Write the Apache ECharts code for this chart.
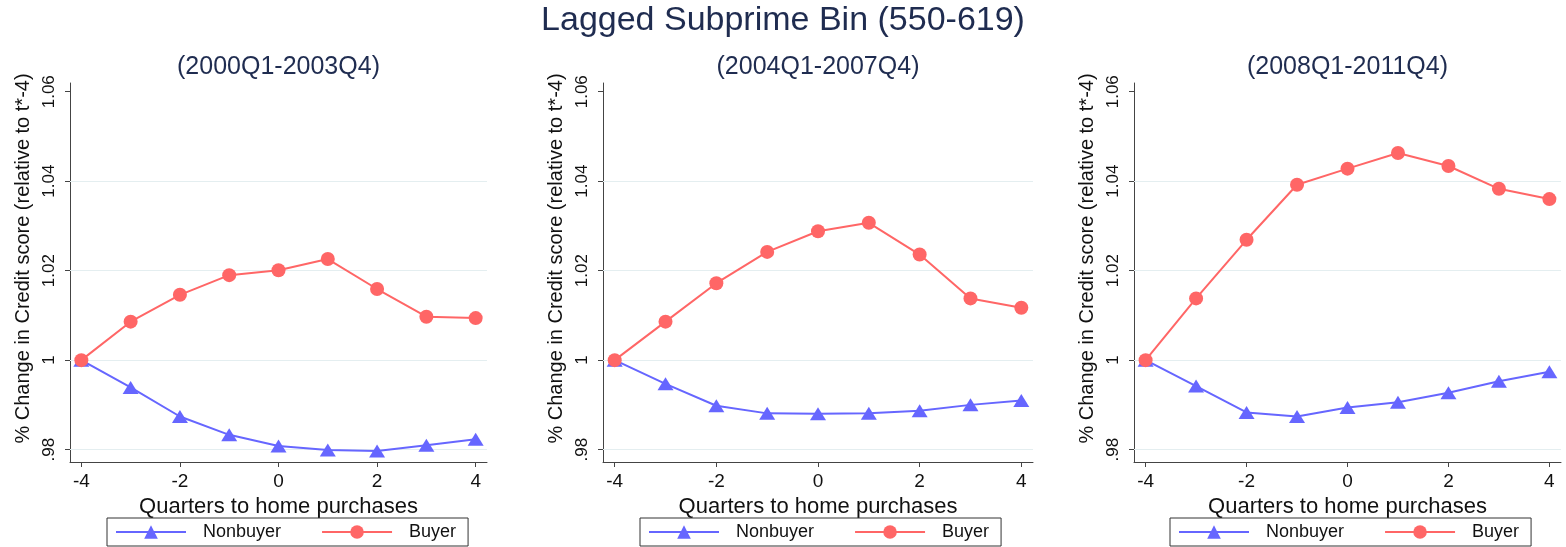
<!DOCTYPE html>
<html>
<head>
<meta charset="utf-8">
<title>Lagged Subprime Bin (550-619)</title>
<script src="https://cdn.jsdelivr.net/npm/echarts@6/dist/echarts.min.js"></script>
<style>
  html, body { margin: 0; padding: 0; background: #fff; }
  #chart { width: 1566px; height: 547px; }
</style>
</head>
<body>
<div id="chart"></div>
<script>
// --- data ---
const mainTitle = "Lagged Subprime Bin (550-619)";
const panelTitles = ["(2000Q1-2003Q4)", "(2004Q1-2007Q4)", "(2008Q1-2011Q4)"];
const quarters = [-4, -3, -2, -1, 0, 1, 2, 3, 4];

const nonbuyer2000 = [1.0, 0.9939, 0.9874, 0.9833, 0.9808, 0.9799, 0.9797, 0.9810, 0.9823];
const buyer2000    = [1.0, 1.0086, 1.0146, 1.0190, 1.0201, 1.0226, 1.0159, 1.0097, 1.0094];
const nonbuyer2004 = [1.0, 0.9947, 0.9898, 0.9881, 0.9880, 0.9881, 0.9887, 0.9900, 0.9910];
const buyer2004    = [1.0, 1.0086, 1.0172, 1.0242, 1.0288, 1.0307, 1.0236, 1.0138, 1.0117];
const nonbuyer2008 = [1.0, 0.9942, 0.9883, 0.9874, 0.9894, 0.9906, 0.9927, 0.9953, 0.9974];
const buyer2008    = [1.0, 1.0138, 1.0269, 1.0392, 1.0428, 1.0463, 1.0434, 1.0383, 1.0360];

const xTicks = [-4, -2, 0, 2, 4];
const yTicks = [0.98, 1, 1.02, 1.04, 1.06];
const yTickLabels = [".98", "1", "1.02", "1.04", "1.06"];
const gridValues = [0.98, 1, 1.02, 1.04];

const nonbuyerSets = [nonbuyer2000, nonbuyer2004, nonbuyer2008];
const buyerSets = [buyer2000, buyer2004, buyer2008];

// --- layout ---
const FONT = "'Liberation Sans', Arial, Helvetica, sans-serif";
const NAVY = "#1f2c50";
const AXIS = "#444";
const BLUE = "#6666ff";
const RED = "#ff6666";
const panels = [
    { left: 70, width: 417, legendLeft: 107 },
    { left: 603, width: 430, legendLeft: 640 },
    { left: 1134, width: 427, legendLeft: 1170 }
];
const plotTop = 83;
const plotHeight = 379;

function yLabel(v) {
    const i = yTicks.findIndex((t) => Math.abs(t - v) < 1e-6);
    return i >= 0 ? yTickLabels[i] : "";
}

const chart = echarts.init(document.getElementById("chart"), null, { renderer: "canvas" });

const titles = [{
    text: mainTitle,
    left: 783,
    top: 4,
    padding: 0,
    textAlign: "center",
    textStyle: { fontSize: 34, fontWeight: "normal", color: NAVY, fontFamily: FONT }
}];
const grids = [];
const xAxes = [];
const yAxes = [];
const legends = [];
const series = [];

panels.forEach((p, i) => {
    titles.push({
        text: panelTitles[i],
        left: p.left + p.width / 2,
        top: 55,
        padding: 0,
        textAlign: "center",
        textStyle: { fontSize: 25, fontWeight: "normal", color: NAVY, fontFamily: FONT }
    });

    grids.push({
        left: p.left,
        top: plotTop,
        width: p.width,
        height: plotHeight,
        containLabel: false,
        outerBoundsMode: "none"
    });

    xAxes.push({
        type: "value",
        gridIndex: i,
        min: -4.23,
        max: 4.23,
        axisLine: { show: true, onZero: false, lineStyle: { color: AXIS, width: 1 } },
        axisTick: { show: true, customValues: xTicks, length: 5, lineStyle: { color: AXIS } },
        axisLabel: {
            customValues: xTicks,
            fontSize: 19,
            color: "#111",
            margin: 10,
            fontFamily: FONT,
            formatter: (v) => String(v)
        },
        splitLine: { show: false },
        name: "Quarters to home purchases",
        nameLocation: "middle",
        nameGap: 25,
        nameTextStyle: { fontSize: 22, color: "#111", fontFamily: FONT }
    });

    yAxes.push({
        type: "value",
        gridIndex: i,
        min: 0.97723,
        max: 1.06195,
        axisLine: { show: true, onZero: false, lineStyle: { color: AXIS, width: 1 } },
        axisTick: { show: true, customValues: yTicks, length: 5, lineStyle: { color: AXIS } },
        axisLabel: {
            customValues: yTicks,
            rotate: 90,
            fontSize: 17,
            color: "#111",
            margin: 12,
            fontFamily: FONT,
            formatter: yLabel
        },
        splitLine: { show: false },
        name: "% Change in Credit score (relative to t*-4)",
        nameLocation: "middle",
        nameRotate: 90,
        nameGap: 37,
        nameTextStyle: { fontSize: 20, color: "#111", fontFamily: FONT, padding: [0, 0, 0, 28] }
    });

    legends.push({
        left: p.legendLeft,
        top: 518,
        orient: "horizontal",
        data: ["Nonbuyer", "Buyer"],
        selectedMode: false,
        itemWidth: 70,
        itemHeight: 17,
        itemGap: 40,
        padding: [5, 12, 5, 8],
        borderColor: "#333",
        borderWidth: 1,
        borderRadius: 0,
        textStyle: { fontSize: 18, color: "#111", fontFamily: FONT, padding: [0, 0, 0, 12] }
    });

    series.push({
        type: "line",
        name: "Nonbuyer",
        xAxisIndex: i,
        yAxisIndex: i,
        data: quarters.map((q, k) => [q, nonbuyerSets[i][k]]),
        symbol: "triangle",
        symbolSize: [16, 13],
        color: BLUE,
        lineStyle: { width: 2, color: BLUE },
        itemStyle: { color: BLUE },
        z: 3,
        markLine: {
            silent: true,
            symbol: "none",
            z: 1,
            label: { show: false },
            lineStyle: { color: "#e4eef0", width: 1, type: "solid" },
            emphasis: { disabled: true },
            data: gridValues.map((v) => ({ yAxis: v }))
        }
    });
    series.push({
        type: "line",
        name: "Buyer",
        xAxisIndex: i,
        yAxisIndex: i,
        data: quarters.map((q, k) => [q, buyerSets[i][k]]),
        symbol: "circle",
        symbolSize: 14,
        color: RED,
        lineStyle: { width: 2, color: RED },
        itemStyle: { color: RED },
        z: 4
    });
});

chart.setOption({
    animation: false,
    backgroundColor: "#fff",
    textStyle: { fontFamily: FONT },
    title: titles,
    grid: grids,
    xAxis: xAxes,
    yAxis: yAxes,
    legend: legends,
    series: series
});
</script>
</body>
</html>
